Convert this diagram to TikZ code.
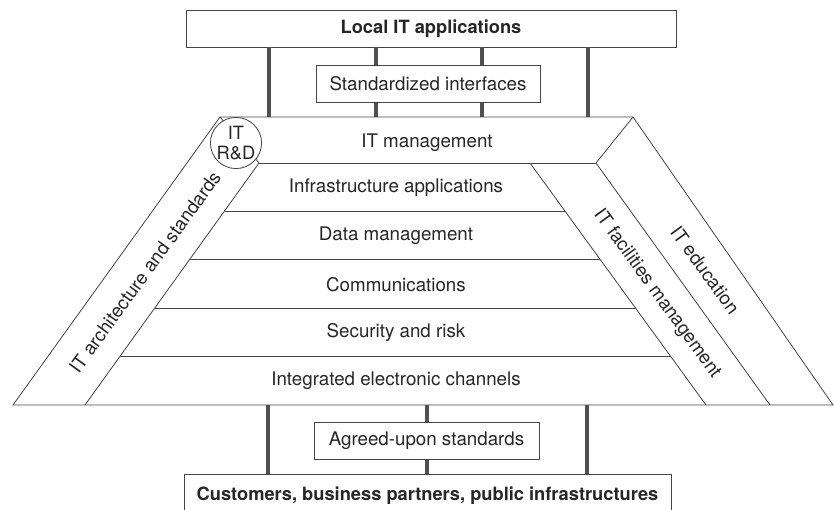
\documentclass[tikz,border=0pt]{standalone}
\usepackage{fontspec}
\setmainfont{TeX Gyre Heros}
\usepackage{tikz}
\usetikzlibrary{calc,positioning}
\definecolor{inkgray}{RGB}{70,70,70}
\definecolor{pillargray}{RGB}{80,80,80}

\begin{document}
\begin{tikzpicture}[x=0.03cm, y=-0.03cm,
  box/.style={rectangle, draw=inkgray, line width=0.8pt, fill=white,
              font=\fontsize{16}{18}\selectfont, text=black!85, inner sep=0pt},
  headbox/.style={box, font=\fontsize{15.6}{18}\selectfont\bfseries},
  rowlabel/.style={font=\fontsize{16}{18}\selectfont, text=black!85, inner sep=0pt},
  rim/.style={draw=inkgray, line width=0.7pt},
  pillar/.style={draw=pillargray, line width=4.2pt}
]
  \clip (0,0) rectangle (834,510);

  % ── corners of the platform ──
  \coordinate (bl) at (13,405);
  \coordinate (tl) at (220,117);
  \coordinate (tr) at (633,117);
  \coordinate (br) at (833,405);
  \coordinate (ml) at (259,163);   % foot of left miter
  \coordinate (mr) at (596,163);   % foot of right miter
  \coordinate (il) at (85,405);
  \coordinate (ie) at (770,405);
  \coordinate (fl) at (530,163);
  \coordinate (fb) at (706,405);

  % ── TOP: local applications ──
  \node[headbox, minimum width=14.7cm, minimum height=1.11cm] (local) at (431,28.5) {Local IT applications};
  \draw[pillar] (local.south -| 269,0) -- (269,0 |- tl);
  \draw[pillar] (local.south -| 376,0) -- (376,0 |- tl);
  \draw[pillar] (local.south -| 482,0) -- (482,0 |- tl);
  \draw[pillar] (local.south -| 588,0) -- (588,0 |- tl);
  \node[box, minimum width=6.72cm, minimum height=1.11cm] (stdif) at (428,83.5) {Standardized interfaces};

  % ── platform outline and bands ──
  \draw[rim] (bl) -- (tl) -- (tr) -- (br) -- cycle;
  \draw[rim] (tl) -- (ml) -- (il);
  \draw[rim] (tr) -- (mr) -- (ie);
  \draw[rim] (ml) -- (mr);
  \draw[rim] (fl) -- (fb);
  \draw[rim] ($(ml)!0.2!(il)$) -- ($(fl)!0.2!(fb)$);
  \draw[rim] ($(ml)!0.4!(il)$) -- ($(fl)!0.4!(fb)$);
  \draw[rim] ($(ml)!0.6!(il)$) -- ($(fl)!0.6!(fb)$);
  \draw[rim] ($(ml)!0.8!(il)$) -- ($(fl)!0.8!(fb)$);

  % ── layers ──
  \node[rowlabel] (itmgmt) at (427,143) {IT management};
  \node[rowlabel] (infra)  at (396,187.2) {Infrastructure applications};
  \node[rowlabel] (datamg) at (396,236) {Data management};
  \node[rowlabel] (comms)  at (396,284.5) {Communications};
  \node[rowlabel] (secrsk) at (396,332.4) {Security and risk};
  \node[rowlabel] (chans)  at (396,380.8) {Integrated electronic channels};

  \node[rowlabel, rotate=54]  (archstd) at (145,272) {IT architecture and standards};
  \node[rowlabel, rotate=-54] (facmgmt) at (657,294) {IT facilities management};
  \node[rowlabel, rotate=-54] (itedu)   at (705,270) {IT education};

  \node[circle, draw=inkgray, line width=0.7pt, fill=white, minimum size=1.36cm, inner sep=0pt,
        align=center, font=\fontsize{15.6}{17}\selectfont, text=black!85] (rnd) at (236,143) {IT\\R\&D};

  % ── BOTTOM: outside world ──
  \node[headbox, minimum width=14.61cm, minimum height=1.32cm] (cust) at (427.5,496) {Customers, business partners, public infrastructures};
  \draw[pillar] (268,0 |- bl) -- (268,0 |- cust.north);
  \draw[pillar] (427,0 |- bl) -- (427,0 |- cust.north);
  \draw[pillar] (587,0 |- bl) -- (587,0 |- cust.north);
  \node[box, minimum width=6.75cm, minimum height=1.11cm] (agreed) at (426.5,440.5) {Agreed-upon standards};
\end{tikzpicture}
\end{document}
